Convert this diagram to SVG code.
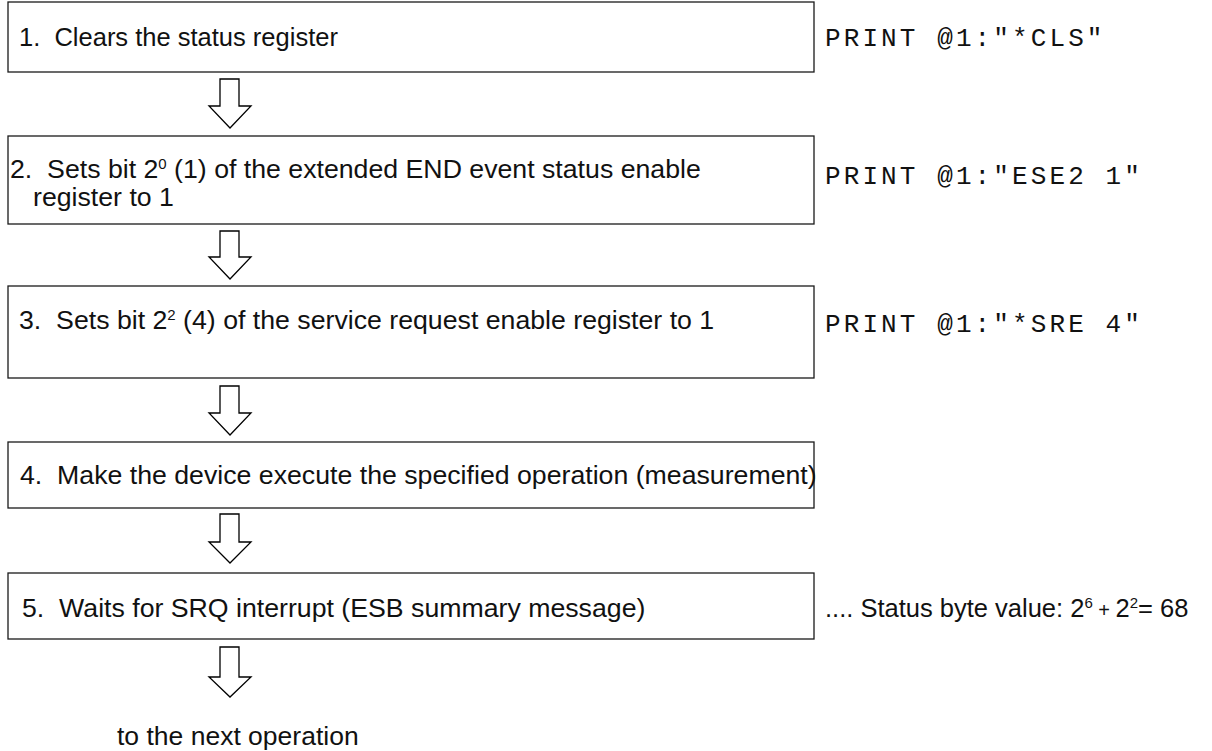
<svg xmlns="http://www.w3.org/2000/svg" width="1212" height="751" viewBox="0 0 1212 751">
<style>
.box{fill:#fff;stroke:#1a1a1a;stroke-width:1.3}
.arr{fill:#fff;stroke:#000;stroke-width:1.3;stroke-linejoin:miter}
.t{font-family:"Liberation Sans",Arial,sans-serif;font-size:26.7px;fill:#111}
.m{font-family:"Liberation Mono","Courier New",monospace;font-size:26px;fill:#111;letter-spacing:3.1px}
.sup{font-size:15px}
</style>
<rect width="1212" height="751" fill="#fff"/>
<g id="node1">
<rect class="box" x="8" y="2" width="806" height="70"/>
<text class="t" x="19" y="46" style="font-size:25.5px" xml:space="preserve">1.  Clears the status register</text>
</g>
<g id="node2">
<rect class="box" x="8" y="136" width="806" height="88"/>
<text class="t" x="10" y="178" xml:space="preserve">2.  Sets bit 2<tspan class="sup" dy="-9">0</tspan><tspan dy="9"> (1) of the extended END event status enable</tspan></text>
<text class="t" x="33" y="206">register to 1</text>
</g>
<g id="node3">
<rect class="box" x="8" y="286" width="806" height="92"/>
<text class="t" x="19" y="329" xml:space="preserve">3.  Sets bit 2<tspan class="sup" dy="-9">2</tspan><tspan dy="9"> (4) of the service request enable register to 1</tspan></text>
</g>
<g id="node4">
<rect class="box" x="8" y="442" width="806" height="66"/>
<text class="t" x="20" y="484" xml:space="preserve">4.  Make the device execute the specified operation (measurement)</text>
</g>
<g id="node5">
<rect class="box" x="8" y="573" width="806" height="66"/>
<text class="t" x="22" y="617" xml:space="preserve">5.  Waits for SRQ interrupt (ESB summary message)</text>
</g>
<g id="cmd1"><text class="m" x="825" y="46">PRINT @1:"*CLS"</text></g>
<g id="cmd2"><text class="m" x="825" y="184">PRINT @1:"ESE2 1"</text></g>
<g id="cmd3"><text class="m" x="825" y="332">PRINT @1:"*SRE 4"</text></g>
<g id="note5"><text class="t" x="825" y="617" style="font-size:25.5px" xml:space="preserve">.... Status byte value: 2<tspan class="sup" dy="-9">6</tspan><tspan dy="9" style="font-size:20px"> + </tspan>2<tspan class="sup" dy="-9">2</tspan><tspan dy="9">= 68</tspan></text></g>
<g id="next"><text class="t" x="117" y="745" style="font-size:26.5px">to the next operation</text></g>
<g id="connectors">
<polygon class="arr" points="220,79 239,79 239,106 251,106 230,128 209,106 220,106"/>
<polygon class="arr" points="220,231 239,231 239,257 251,257 230,279 209,257 220,257"/>
<polygon class="arr" points="220,386 239,386 239,413 251,413 230,435 209,413 220,413"/>
<polygon class="arr" points="220,514 239,514 239,542 251,542 230,563 209,542 220,542"/>
<polygon class="arr" points="220,647 239,647 239,677 251,677 230,697 209,677 220,677"/>
</g>
</svg>
